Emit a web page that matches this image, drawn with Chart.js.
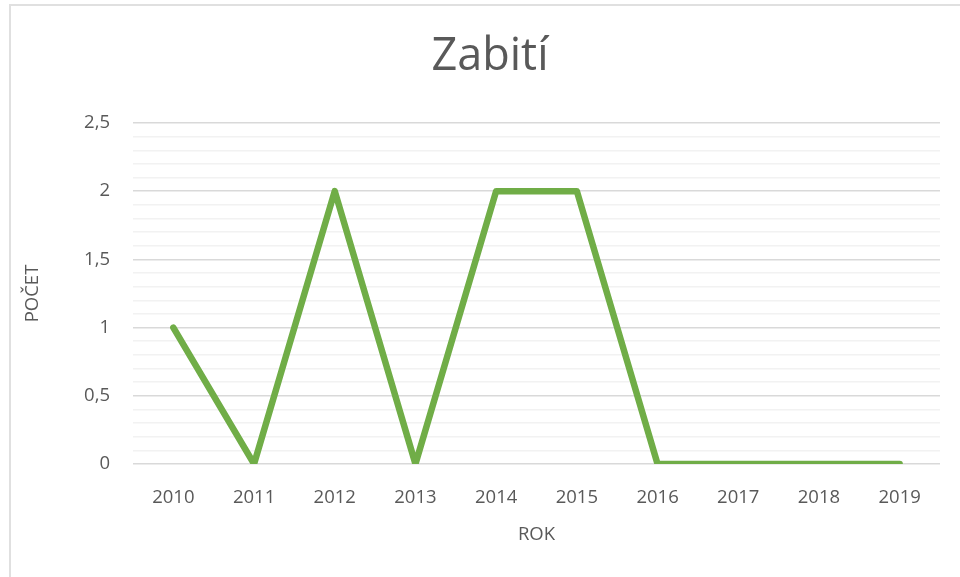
<!DOCTYPE html>
<html>
<head>
<meta charset="utf-8">
<script src="https://cdn.jsdelivr.net/npm/chart.js@4"></script>
<style>
    body { margin: 0; background: #fff; overflow: hidden; }
    #frame {
        position: absolute; left: 9px; top: 4px; width: 1000px; height: 1000px;
        border-left: 2px solid #e0e0e0; border-top: 2px solid #e0e0e0;
    }
    #wrap { position: absolute; left: 0; top: 0; width: 960px; height: 577px; }
</style>
</head>
<body>
<div id="frame"></div>
<div id="wrap"><canvas id="chart" width="960" height="577"></canvas></div>
<script>
// chart data
const years = ['2010', '2011', '2012', '2013', '2014', '2015', '2016', '2017', '2018', '2019'];
const killed = [1, 0, 2, 0, 2, 2, 0, 0, 0, 0];
const yTickLabels = ['0', '0,5', '1', '1,5', '2', '2,5'];

const textColor = '#595959';
const fontFamily = "'Open Sans', 'Noto Sans', sans-serif";

const ctx = document.getElementById('chart').getContext('2d');

new Chart(ctx, {
    type: 'line',
    data: {
        labels: years,
        datasets: [{
            label: 'Zabití',
            data: killed,
            borderColor: '#70ad47',
            borderWidth: 6.5,
            pointRadius: 0,
            borderCapStyle: 'round',
            borderJoinStyle: 'round',
            tension: 0,
        }],
    },
    options: {
        responsive: false,
        animation: false,
        // left padding is wider so the title sits where it does in the original
        layout: { padding: { left: 40, right: 20, top: 0, bottom: 0 } },
        plugins: {
            legend: { display: false },
            tooltip: { enabled: false },
            title: {
                display: true,
                text: 'Zabití',
                color: textColor,
                font: { family: fontFamily, size: 45, weight: 'normal' },
                padding: { top: 30, bottom: 39 },
            },
        },
        scales: {
            x: {
                offset: true,
                grid: { display: false, drawTicks: false },
                border: { display: false },
                ticks: {
                    color: textColor,
                    font: { family: fontFamily, size: 18.5 },
                    padding: 23,
                    maxRotation: 0,
                },
                title: {
                    display: true,
                    text: 'ROK',
                    color: textColor,
                    font: { family: fontFamily, size: 18.5 },
                    padding: { top: 0, bottom: 31 },
                },
                afterFit: (scale) => { scale.height = 577 - 464; },
            },
            y: {
                min: 0,
                max: 2.5,
                grid: {
                    drawTicks: false,
                    color: (c) => (Math.round(c.tick.value * 10) % 5 === 0 ? '#d9d9d9' : '#f2f2f2'),
                    lineWidth: 1.5,
                },
                border: { display: false },
                ticks: {
                    stepSize: 0.1,
                    autoSkip: false,
                    color: textColor,
                    font: { family: fontFamily, size: 18.5 },
                    padding: 23,
                    callback: (value) => {
                        const t = Math.round(value * 10);
                        return t % 5 === 0 ? yTickLabels[t / 5] : '';
                    },
                },
                title: {
                    display: true,
                    text: 'POČET',
                    color: textColor,
                    font: { family: fontFamily, size: 18.5 },
                    padding: { top: -18, bottom: 0 },
                },
                afterFit: (scale) => { scale.width = 133 - 40; },
            },
        },
    },
});
</script>
</body>
</html>
